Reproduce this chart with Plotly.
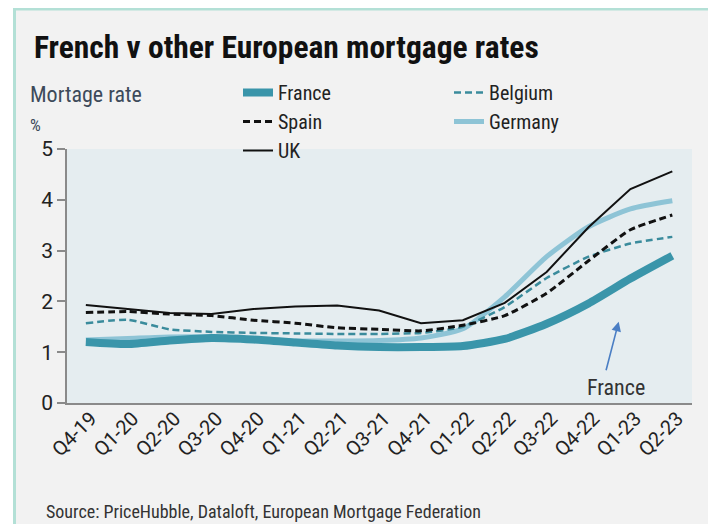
import plotly.graph_objects as go

quarters = ["Q4-19", "Q1-20", "Q2-20", "Q3-20", "Q4-20", "Q1-21", "Q2-21", "Q3-21",
            "Q4-21", "Q1-22", "Q2-22", "Q3-22", "Q4-22", "Q1-23", "Q2-23"]
france = [1.20, 1.16, 1.23, 1.28, 1.25, 1.19, 1.13, 1.10, 1.10, 1.12, 1.26, 1.56, 1.96, 2.45, 2.90]
belgium = [1.57, 1.64, 1.45, 1.40, 1.38, 1.37, 1.36, 1.36, 1.38, 1.50, 1.89, 2.46, 2.88, 3.14, 3.27]
spain = [1.78, 1.80, 1.75, 1.72, 1.63, 1.57, 1.48, 1.45, 1.42, 1.53, 1.72, 2.16, 2.80, 3.41, 3.70]
germany = [1.24, 1.27, 1.30, 1.30, 1.25, 1.22, 1.22, 1.23, 1.28, 1.46, 2.09, 2.88, 3.47, 3.82, 3.98]
uk = [1.93, 1.85, 1.77, 1.75, 1.85, 1.90, 1.92, 1.82, 1.57, 1.63, 1.97, 2.58, 3.46, 4.21, 4.56]
y_ticks = [0, 1, 2, 3, 4, 5]

# the page body has an 8px margin, so the figure is drawn 8px in from the window corner
OFF = 8
W, H = 716 - OFF, 524 - OFF
ML, MR, MT, MB = 67 - OFF, 24, 149 - OFF, 121
PW, PH = W - ML - MR, H - MT - MB


def px(xs):
    """screen x -> paper x"""
    return (xs - OFF - ML) / PW


def py(ys):
    """screen y -> paper y"""
    return (H - MB - (ys - OFF)) / PH


FONT = "Liberation Sans Narrow, Roboto Condensed, Arial Narrow, Roboto, sans-serif"
TICKFONT = "Roboto, Liberation Sans, sans-serif"

fig = go.Figure()
fig.add_trace(go.Scatter(x=quarters, y=germany, name="Germany", mode="lines", legendrank=4,
                         line=dict(color="#8ec4d6", width=5, shape="spline", smoothing=0.6)))
fig.add_trace(go.Scatter(x=quarters, y=france, name="France", mode="lines", legendrank=1,
                         line=dict(color="#3a95aa", width=8, shape="spline", smoothing=0.6)))
fig.add_trace(go.Scatter(x=quarters, y=belgium, name="Belgium", mode="lines", legendrank=2,
                         line=dict(color="#3a8b9c", width=2.5, dash="7px,4px", shape="spline", smoothing=0.5)))
fig.add_trace(go.Scatter(x=quarters, y=spain, name="Spain", mode="lines", legendrank=3,
                         line=dict(color="#111111", width=3, dash="7px,4px", shape="spline", smoothing=0.5)))
fig.add_trace(go.Scatter(x=quarters, y=uk, name="UK", mode="lines", legendrank=5,
                         line=dict(color="#111111", width=2)))

shapes = [
    dict(type="rect", xref="paper", yref="paper", x0=px(0), x1=px(13), y0=py(600), y1=py(0),
         fillcolor="white", line_width=0, layer="below"),
    dict(type="line", xref="paper", yref="paper", x0=px(14.5), x1=px(14.5), y0=py(8), y1=py(600),
         line=dict(color="#b3e0d6", width=3), layer="below"),
    dict(type="line", xref="paper", yref="paper", x0=px(13), x1=px(800), y0=py(9), y1=py(9),
         line=dict(color="#b3e0d6", width=3), layer="below"),
]

annotations = [
    dict(text="French v other European mortgage rates", xref="paper", yref="paper",
         x=px(32), y=py(47), xanchor="left", yanchor="middle", showarrow=False,
         font=dict(family=FONT, size=31.5, color="#111111", weight="bold")),
    dict(text="Mortage rate", xref="paper", yref="paper", x=px(28), y=py(95),
         xanchor="left", yanchor="middle", showarrow=False,
         font=dict(family=FONT, size=22, color="#3d4a5a")),
    dict(text="%", xref="paper", yref="paper", x=px(28), y=py(125),
         xanchor="left", yanchor="middle", showarrow=False,
         font=dict(family=FONT, size=17, color="#3d4a5a")),
    dict(text="Source: PriceHubble, Dataloft, European Mortgage Federation", xref="paper", yref="paper",
         x=px(44), y=py(511), xanchor="left", yanchor="middle", showarrow=False,
         font=dict(family=FONT, size=18, color="#333333")),
    dict(text="France", x=12.65, y=0.3, xref="x", yref="y", showarrow=False,
         font=dict(family=FONT, size=22, color="#333333")),
    dict(text="", x=12.72, y=1.6, xref="x", yref="y", showarrow=True, ax=-13, ay=50,
         arrowhead=2, arrowsize=1.2, arrowwidth=1.6, arrowcolor="#4a7ec4"),
]

fig.update_layout(
    width=W, height=H,
    margin=dict(l=ML, r=MR, t=MT, b=MB),
    paper_bgcolor="#f2f2f2",
    plot_bgcolor="#e5edf0",
    font=dict(family=FONT, color="#222222"),
    shapes=shapes,
    annotations=annotations,
    legend=dict(orientation="h", x=px(238), y=py(73), xanchor="left", yanchor="top",
                bgcolor="rgba(0,0,0,0)", entrywidthmode="pixels", entrywidth=166,
                font=dict(family=FONT, size=20, color="#222222"), tracegroupgap=0),
    xaxis=dict(type="category", range=[-0.45, 14.47], showgrid=False, zeroline=False,
               showline=True, linecolor="#8a8a8a", linewidth=2, ticks="",
               ticklabelstandoff=-6, ticklabelshift=5,
               tickangle=-45, tickfont=dict(family=TICKFONT, size=20, color="#222222")),
    yaxis=dict(range=[0, 5], tickvals=y_ticks, showgrid=False, zeroline=False,
               showline=True, linecolor="#8a8a8a", linewidth=1.5, ticks="outside",
               ticklen=8, tickcolor="#8a8a8a", tickwidth=1.5,
               tickfont=dict(family=TICKFONT, size=21, color="#222222")),
)

fig.write_html("out.html")
